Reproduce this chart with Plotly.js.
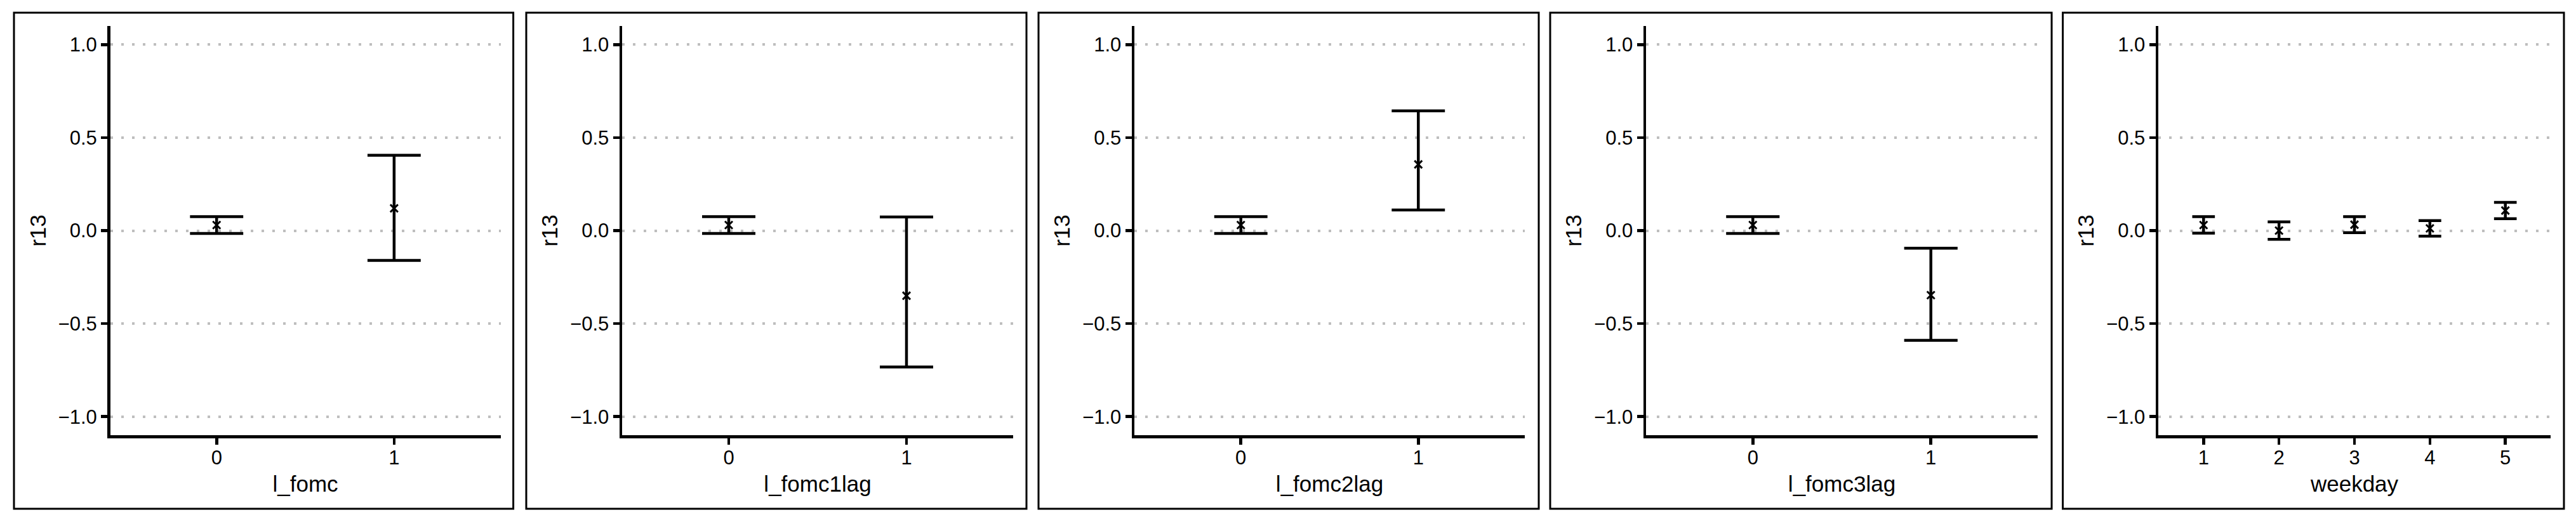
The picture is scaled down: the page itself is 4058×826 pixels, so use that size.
<!DOCTYPE html>
<html>
<head>
<meta charset="utf-8">
<script src="https://cdn.plot.ly/plotly-3.0.1.min.js"></script>
<style>
  html, body { margin: 0; padding: 0; background: #fff; }
  #chart { width: 4058px; height: 826px; }
</style>
</head>
<body>
<div id="chart"></div>
<script>
// ---- data ----
var yLabel = 'r13';
var xLabels = ['l_fomc', 'l_fomc1lag', 'l_fomc2lag', 'l_fomc3lag', 'weekday'];

var fomcCats = ['0', '1'];
var weekdayCats = ['1', '2', '3', '4', '5'];

var fomcMean = [0.03, 0.12];
var fomcLow = [-0.015, -0.16];
var fomcHigh = [0.075, 0.405];

var fomc1lagMean = [0.03, -0.35];
var fomc1lagLow = [-0.015, -0.733];
var fomc1lagHigh = [0.075, 0.073];

var fomc2lagMean = [0.03, 0.356];
var fomc2lagLow = [-0.015, 0.111];
var fomc2lagHigh = [0.075, 0.644];

var fomc3lagMean = [0.03, -0.347];
var fomc3lagLow = [-0.015, -0.59];
var fomc3lagHigh = [0.075, -0.095];

var weekdayMean = [0.03, 0.0, 0.032, 0.012, 0.108];
var weekdayLow = [-0.014, -0.047, -0.011, -0.03, 0.064];
var weekdayHigh = [0.075, 0.047, 0.075, 0.054, 0.152];

var yTicks = [-1, -0.5, 0, 0.5, 1];

// ---- page geometry (px) ----
var W = 4058, H = 826;
var plotLeft = [173.5, 980, 1787, 2593, 3400];
var plotRight = [788.6, 1596, 2402, 3210, 4018];
var boxLeft = [22, 829, 1636, 2442, 3249.5];
var boxRight = [808.6, 1617, 2424, 3232, 4039];
var plotTop = 41, plotBottom = 686;
var boxTop = 20, boxBottom = 802;

var panels = [
  {cats: fomcCats, mean: fomcMean, low: fomcLow, high: fomcHigh},
  {cats: fomcCats, mean: fomc1lagMean, low: fomc1lagLow, high: fomc1lagHigh},
  {cats: fomcCats, mean: fomc2lagMean, low: fomc2lagLow, high: fomc2lagHigh},
  {cats: fomcCats, mean: fomc3lagMean, low: fomc3lagLow, high: fomc3lagHigh},
  {cats: weekdayCats, mean: weekdayMean, low: weekdayLow, high: weekdayHigh}
];

var font = 'Liberation Sans, Arial, sans-serif';
var data = [];
var layout = {
  width: W,
  height: H,
  margin: {l: 0, r: 0, t: 0, b: 0},
  paper_bgcolor: '#fff',
  plot_bgcolor: '#fff',
  showlegend: false,
  font: {family: font, color: '#000'},
  shapes: []
};

panels.forEach(function (p, i) {
  var n = p.cats.length;
  var suffix = i === 0 ? '' : String(i + 1);
  // caps are 0.3 category units wide, like the reference
  var pxPerUnit = (plotRight[i] - plotLeft[i]) / (n + 0.2);

  data.push({
    type: 'scatter',
    mode: 'markers',
    x: p.cats,
    y: p.mean,
    xaxis: 'x' + suffix,
    yaxis: 'y' + suffix,
    marker: {symbol: 'x-thin', size: 12, color: '#000', line: {width: 3, color: '#000'}},
    error_y: {
      type: 'data',
      symmetric: false,
      array: p.high.map(function (h, k) { return h - p.mean[k]; }),
      arrayminus: p.low.map(function (l, k) { return p.mean[k] - l; }),
      color: '#000',
      thickness: 4.5,
      width: 0.15 * pxPerUnit
    },
    hoverinfo: 'x+y'
  });

  layout['xaxis' + suffix] = {
    domain: [plotLeft[i] / W, plotRight[i] / W],
    anchor: 'y' + suffix,
    type: 'category',
    categoryorder: 'array',
    categoryarray: p.cats,
    range: [-0.6, n - 0.4],
    showline: true, linecolor: '#000', linewidth: 4.5,
    ticks: 'outside', ticklen: 10, tickwidth: 4.5, tickcolor: '#000',
    ticklabelstandoff: -6,
    showgrid: false, zeroline: false,
    tickfont: {size: 31, color: '#000'},
    title: {text: xLabels[i], font: {size: 35, color: '#000'}, standoff: 14}
  };
  layout['yaxis' + suffix] = {
    domain: [1 - plotBottom / H, 1 - plotTop / H],
    anchor: 'x' + suffix,
    range: [-1.1, 1.1],
    tickvals: yTicks,
    tickformat: '.1f',
    showline: true, linecolor: '#000', linewidth: 4.5,
    ticks: 'outside', ticklen: 10, tickwidth: 4.5, tickcolor: '#000',
    showgrid: true, gridcolor: '#bebebe', gridwidth: 4, griddash: '4px,13px',
    zeroline: false,
    tickfont: {size: 31, color: '#000'},
    title: {text: yLabel, font: {size: 35, color: '#000'}, standoff: 10}
  };

  // frame round each panel
  layout.shapes.push({
    type: 'rect', xref: 'paper', yref: 'paper',
    x0: boxLeft[i] / W, x1: boxRight[i] / W,
    y0: 1 - boxBottom / H, y1: 1 - boxTop / H,
    line: {color: '#000', width: 3}
  });
});

Plotly.newPlot('chart', data, layout, {staticPlot: true});
</script>
</body>
</html>
